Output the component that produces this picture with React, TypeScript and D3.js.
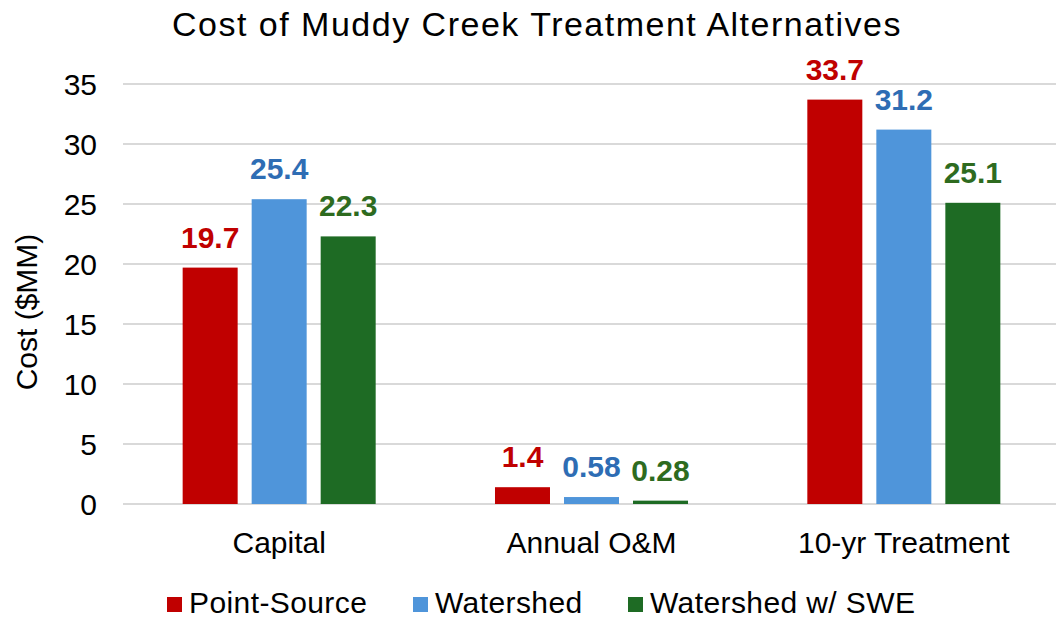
import React from 'react';
import * as d3 from 'd3';

const categories = ['Capital', 'Annual O&M', '10-yr Treatment'];
const seriesNames = ['Point-Source', 'Watershed', 'Watershed w/ SWE'];
const pointSource = [19.7, 1.4, 33.7];
const watershed = [25.4, 0.58, 31.2];
const watershedSwe = [22.3, 0.28, 25.1];
const yTicks = [0, 5, 10, 15, 20, 25, 30, 35];

const barColors = ['#C00000', '#4F95DA', '#1E6B24'];
const labelColors = ['#C00000', '#2E6DB4', '#2E6B1F'];
const font = "Arial, 'Liberation Sans', sans-serif";

const App = () => {
    const width = 1056;
    const height = 618;
    const seriesValues = [pointSource, watershed, watershedSwe];

    const x0 = d3.scaleBand<string>()
        .domain(categories)
        .range([123, 1060])
        .paddingInner(0.382)
        .paddingOuter(0.191);
    const x1 = d3.scaleBand<string>()
        .domain(seriesNames)
        .range([0, x0.bandwidth()])
        .paddingInner(0.203);
    const y = d3.scaleLinear().domain([0, 35]).range([504, 84]);

    const legendX = [167, 413, 628];

    return (
        <svg width={width} height={height} style={{ position: 'absolute', left: 0, top: 0, background: '#fff' }}
            fontFamily={font}>
            <text x={537} y={36} textAnchor="middle" fontSize={34} letterSpacing={1.5} fill="#000">
                Cost of Muddy Creek Treatment Alternatives
            </text>

            {yTicks.map(t => (
                <g key={t}>
                    <line x1={123} x2={1060} y1={y(t)} y2={y(t)} stroke="#D9D9D9" strokeWidth={2} />
                    <text x={97} y={y(t)} dy="0.36em" textAnchor="end" fontSize={30} fill="#000">{t}</text>
                </g>
            ))}

            <text transform="translate(37,312) rotate(-90)" textAnchor="middle" fontSize={30} fill="#000">
                Cost ($MM)
            </text>

            {categories.map((c, ci) => (
                <g key={c} transform={`translate(${x0(c)},0)`}>
                    {seriesNames.map((s, si) => {
                        const v = seriesValues[si][ci];
                        const bx = x1(s) as number;
                        return (
                            <g key={s}>
                                <rect x={bx} y={y(v)} width={x1.bandwidth()} height={y(0) - y(v)} fill={barColors[si]} />
                                <text x={bx + x1.bandwidth() / 2} y={y(v) - 20} textAnchor="middle" fontSize={30}
                                    fontWeight="bold" fill={labelColors[si]}>{v}</text>
                            </g>
                        );
                    })}
                </g>
            ))}

            {categories.map(c => (
                <text key={c} x={(x0(c) as number) + x0.bandwidth() / 2} y={553} textAnchor="middle" fontSize={30} fill="#000">
                    {c}
                </text>
            ))}

            {seriesNames.map((s, i) => (
                <g key={s}>
                    <rect x={legendX[i]} y={597} width={15} height={15} fill={barColors[i]} />
                    <text x={legendX[i] + 22} y={613} fontSize={30} letterSpacing={0.4} fill="#000">{s}</text>
                </g>
            ))}
        </svg>
    );
};

export default App;
